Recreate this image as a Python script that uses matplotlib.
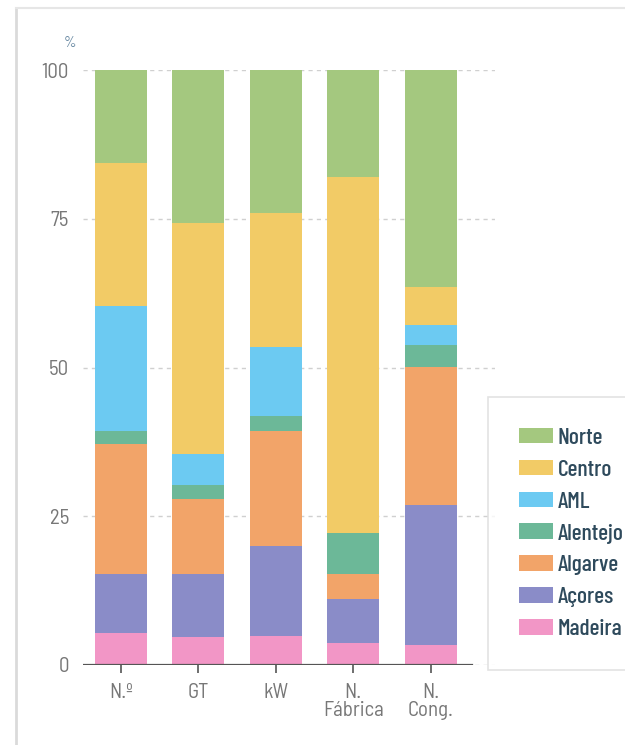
import numpy as np
import matplotlib.pyplot as plt
from matplotlib.lines import Line2D

# categories on the x axis
categories = ["N.º", "GT", "kW", "N.\nFábrica", "N.\nCong."]

# regions, bottom to top of each stack
regions = ["Madeira", "Açores", "Algarve", "Alentejo", "AML", "Centro", "Norte"]
colors = ["#f296c6", "#8a8cc8", "#f2a469", "#6cb898", "#6ccaf2", "#f2cb66", "#a4c87f"]

# shares (%)
madeira = [5.4, 4.7, 4.9, 3.7, 3.4]
acores = [9.9, 10.6, 15.1, 7.4, 23.5]
algarve = [21.8, 12.6, 19.3, 4.2, 23.2]
alentejo = [2.2, 2.4, 2.5, 6.9, 3.7]
aml = [21.0, 5.2, 11.6, 0.0, 3.3]
centro = [24.1, 38.8, 22.6, 59.8, 6.4]
norte = [15.6, 25.7, 24.0, 18.0, 36.5]

series = [madeira, acores, algarve, alentejo, aml, centro, norte]

tick_font = ["Barlow Semi Condensed", "Roboto", "DejaVu Sans"]
legend_font = ["Barlow Condensed", "DejaVu Sans"]

fig = plt.figure(figsize=(6.25, 7.45), dpi=100)
ax = fig.add_axes([83 / 625, 80 / 745, 412 / 625, 595 / 745])

x = np.arange(len(categories))
bottom = np.zeros(len(categories))
handles = []
for name, vals, col in zip(regions, series, colors):
    b = ax.bar(x, vals, width=0.67, bottom=bottom, color=col, label=name, zorder=3)
    handles.append(b)
    bottom += np.array(vals)

ax.set_xlim(-0.49, 4.83)
ax.set_ylim(0, 100)
ax.set_yticks([0, 25, 50, 75, 100])
ax.set_xticks(x)
ax.set_xticklabels(categories)

# dashed grid
for yv in [25, 50, 75, 100]:
    ax.axhline(yv, color="#d0d0d0", lw=1, ls=(0, (3, 3)), zorder=1)
ax.axhline(0, color="#d0d0d0", lw=1, ls=(0, (3, 3)), zorder=1)
ax.axhline(0, xmin=0, xmax=(472 - 83) / 412, color="#555555", lw=1.6, zorder=4)

for s in ax.spines.values():
    s.set_visible(False)

ax.tick_params(axis="y", length=0, pad=10, labelsize=15, labelcolor="#777777")
ax.tick_params(axis="x", length=6, width=1.2, color="#555555", pad=7,
               labelsize=15, labelcolor="#777777")
for lbl in ax.get_xticklabels() + ax.get_yticklabels():
    lbl.set_family(tick_font)
for lbl in ax.get_xticklabels():
    lbl.set_linespacing(0.95)

fig.text(70 / 625, 1 - 43 / 745, "%", color="#6a8aa3", fontsize=11,
         family=tick_font, ha="center", va="center")

# legend, top entry first
leg = ax.legend(handles[::-1], regions[::-1], loc="upper left",
                bbox_to_anchor=(488 / 625, 1 - 397 / 745),
                bbox_transform=fig.transFigure,
                prop={"family": legend_font, "size": 17, "weight": 500},
                frameon=True, fancybox=False, borderpad=1.3,
                labelspacing=0.5, handlelength=1.44, handleheight=0.64,
                handletextpad=0.22, borderaxespad=0)
leg.get_frame().set_edgecolor("#dcdcdc")
leg.get_frame().set_linewidth(1.2)
for t in leg.get_texts():
    t.set_color("#2e4a5c")

# card border
fig.add_artist(Line2D([16 / 625, 16 / 625], [0, 1 - 8 / 745],
                      transform=fig.transFigure, color="#dadada", lw=2))
fig.add_artist(Line2D([16 / 625, 1], [1 - 8 / 745, 1 - 8 / 745],
                      transform=fig.transFigure, color="#e6e6e6", lw=1.5))

fig.savefig("out.png", dpi=100)
